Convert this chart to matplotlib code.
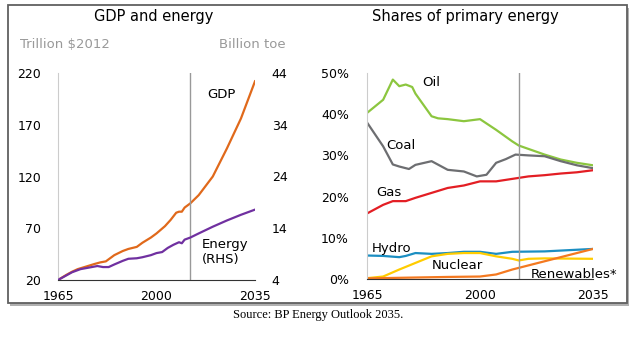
import numpy as np
import matplotlib
matplotlib.use('Agg')
import matplotlib.pyplot as plt
from matplotlib.patches import Rectangle

plt.rcParams['font.family'] = ['DejaVu Sans']

# ---- GDP and energy (left panel) ----
gdp_years = [1965, 1968, 1970, 1972, 1975, 1978, 1980, 1982, 1985, 1988, 1990, 1993,
             1995, 1998, 2000, 2003, 2005, 2007, 2008, 2009, 2010, 2012, 2015, 2020,
             2025, 2030, 2035]
gdp = [20, 25, 28, 30.5, 33, 35.5, 37, 38, 44, 48, 50, 52, 56, 61, 65, 72, 78, 85, 86, 86,
       90, 94, 102, 120, 147, 176, 212]

en_years = [1965, 1968, 1970, 1973, 1975, 1979, 1981, 1983, 1985, 1988, 1990, 1993, 1995,
            1998, 2000, 2002, 2004, 2006, 2008, 2009, 2010, 2012, 2015, 2020, 2025, 2030, 2035]
energy = [4, 4.9, 5.5, 6.1, 6.3, 6.7, 6.5, 6.5, 7.0, 7.7, 8.1, 8.2, 8.4, 8.8, 9.2, 9.4,
          10.2, 10.8, 11.3, 11.1, 11.8, 12.2, 13.0, 14.3, 15.5, 16.6, 17.6]

# ---- Shares of primary energy (right panel), % ----
oil_years = [1965, 1970, 1973, 1975, 1977, 1979, 1980, 1985, 1987, 1990, 1995, 2000, 2005,
             2010, 2012, 2020, 2025, 2030, 2035]
oil = [40.3, 43.5, 48.4, 46.8, 47.2, 46.6, 45.0, 39.5, 39.0, 38.8, 38.3, 38.8, 36.2, 33.4,
       32.4, 30.2, 29.0, 28.2, 27.6]

coal_years = [1965, 1970, 1973, 1975, 1978, 1980, 1985, 1990, 1995, 1999, 2002, 2005, 2008,
              2011, 2015, 2020, 2025, 2030, 2035]
coal = [38.0, 32.2, 27.8, 27.3, 26.7, 27.7, 28.6, 26.5, 26.1, 24.9, 25.3, 28.2, 29.1, 30.2,
        30.0, 29.8, 28.6, 27.6, 26.9]

gas_years = [1965, 1970, 1973, 1977, 1980, 1985, 1990, 1995, 2000, 2005, 2010, 2015, 2020,
             2025, 2030, 2035]
gas = [15.9, 18.0, 18.9, 18.9, 19.7, 20.9, 22.1, 22.7, 23.7, 23.7, 24.3, 24.9, 25.2, 25.6,
       25.9, 26.4]

hydro_years = [1965, 1970, 1975, 1977, 1980, 1985, 1990, 1995, 2000, 2005, 2010, 2020, 2035]
hydro = [5.7, 5.6, 5.3, 5.6, 6.3, 6.1, 6.3, 6.6, 6.6, 6.1, 6.6, 6.7, 7.3]

nuc_years = [1965, 1970, 1975, 1980, 1985, 1990, 1995, 2000, 2005, 2010, 2012, 2015, 2020, 2035]
nuclear = [0.2, 0.6, 2.3, 3.9, 5.5, 6.1, 6.3, 6.3, 5.5, 4.9, 4.5, 4.9, 5.0, 4.9]

ren_years = [1965, 1990, 2000, 2005, 2010, 2015, 2020, 2025, 2030, 2035]
renewables = [0.15, 0.5, 0.6, 1.1, 2.3, 3.3, 4.3, 5.3, 6.3, 7.3]

W, H = 638, 355
fig = plt.figure(figsize=(W / 100, H / 100), dpi=100)

def px(x0, y0, x1, y1):   # pixel box -> figure fraction [l, b, w, h]
    return [x0 / W, 1 - y1 / H, (x1 - x0) / W, (y1 - y0) / H]

# frame with shadow
fig.patches.append(Rectangle((10 / W, 1 - 306 / H), 619 / W, 298 / H, transform=fig.transFigure,
                             facecolor='#b0b0b0', edgecolor='none', zorder=0))
fig.patches.append(Rectangle((8 / W, 1 - 303 / H), 619 / W, 298 / H, transform=fig.transFigure,
                             facecolor='white', edgecolor='#606060', lw=1.3, zorder=1))

grey = '#999999'
tick_kw = dict(length=0, labelsize=9)

# left panel
ax1 = fig.add_axes(px(58, 73, 255, 280))
ax1.set_zorder(3)
ax1.plot(gdp_years, gdp, color='#e0691b', lw=1.6)
ax1.set_xlim(1965, 2035)
ax1.set_ylim(20, 220)
ax1.set_yticks([20, 70, 120, 170, 220])
ax1.set_xticks([1965, 2000, 2035])
ax1.tick_params(axis='y', pad=12, **tick_kw)
ax1.tick_params(axis='x', pad=7, **tick_kw)
ax1.axvline(2012, color=grey, lw=1)
for s in ['top', 'right']:
    ax1.spines[s].set_visible(False)
ax1.spines['left'].set_color('#cccccc')
ax1.spines['bottom'].set_color('#333333')
ax1.patch.set_alpha(0)
ax2 = ax1.twinx()
ax2.plot(en_years, energy, color='#7030a0', lw=1.6)
ax2.set_ylim(4, 44)
ax2.set_yticks([4, 14, 24, 34, 44])
ax2.tick_params(axis='y', pad=12, **tick_kw)
for s in ax2.spines.values():
    s.set_visible(False)
ax1.text(2017.9, 199, 'GDP', fontsize=9.5, va='center')
ax1.text(2016.2, 47, 'Energy\n(RHS)', fontsize=9.5, va='center', linespacing=1.15)
fig.text(154 / W, 1 - 17 / H, 'GDP and energy', fontsize=10.5, ha='center', va='center')
fig.text(20 / W, 1 - 45 / H, 'Trillion $2012', fontsize=9.5, color=grey, va='center')
fig.text(286 / W, 1 - 45 / H, 'Billion toe', fontsize=9.5, color=grey, va='center', ha='right')

# right panel
ax3 = fig.add_axes(px(367, 73, 593, 279))
ax3.set_zorder(3)
ax3.patch.set_alpha(0)
ax3.plot(oil_years, oil, color='#8cc63f', lw=1.6)
ax3.plot(coal_years, coal, color='#6d6e71', lw=1.6)
ax3.plot(gas_years, gas, color='#e31e24', lw=1.6)
ax3.plot(hydro_years, hydro, color='#1b8ec2', lw=1.6)
ax3.plot(nuc_years, nuclear, color='#ffcc00', lw=1.6)
ax3.plot(ren_years, renewables, color='#f47920', lw=1.6)
ax3.set_xlim(1965, 2035)
ax3.set_ylim(0, 50)
ax3.set_yticks([0, 10, 20, 30, 40, 50])
ax3.set_yticklabels(['%d%%' % v for v in [0, 10, 20, 30, 40, 50]])
ax3.set_xticks([1965, 2000, 2035])
ax3.tick_params(axis='y', pad=13, **tick_kw)
ax3.tick_params(axis='x', pad=7, **tick_kw)
ax3.axvline(2012, color=grey, lw=1)
for s in ['top', 'right']:
    ax3.spines[s].set_visible(False)
ax3.spines['left'].set_color('#cccccc')
ax3.spines['bottom'].set_color('#333333')
lab = dict(fontsize=9.5, va='center')
ax3.text(1982, 47.6, 'Oil', **lab)
ax3.text(1970.9, 32.3, 'Coal', **lab)
ax3.text(1967.8, 20.9, 'Gas', **lab)
ax3.text(1966.5, 7.5, 'Hydro', **lab)
ax3.text(1985, 3.2, 'Nuclear', **lab)
ax3.text(2015.8, 1.2, 'Renewables*', clip_on=False, **lab)
fig.text(465 / W, 1 - 17 / H, 'Shares of primary energy', fontsize=10.5, ha='center', va='center')

fig.text(318 / W, 1 - 315 / H, 'Source: BP Energy Outlook 2035.', fontsize=9,
         family='Liberation Serif', ha='center', va='center')

fig.savefig('out.png', dpi=100)
